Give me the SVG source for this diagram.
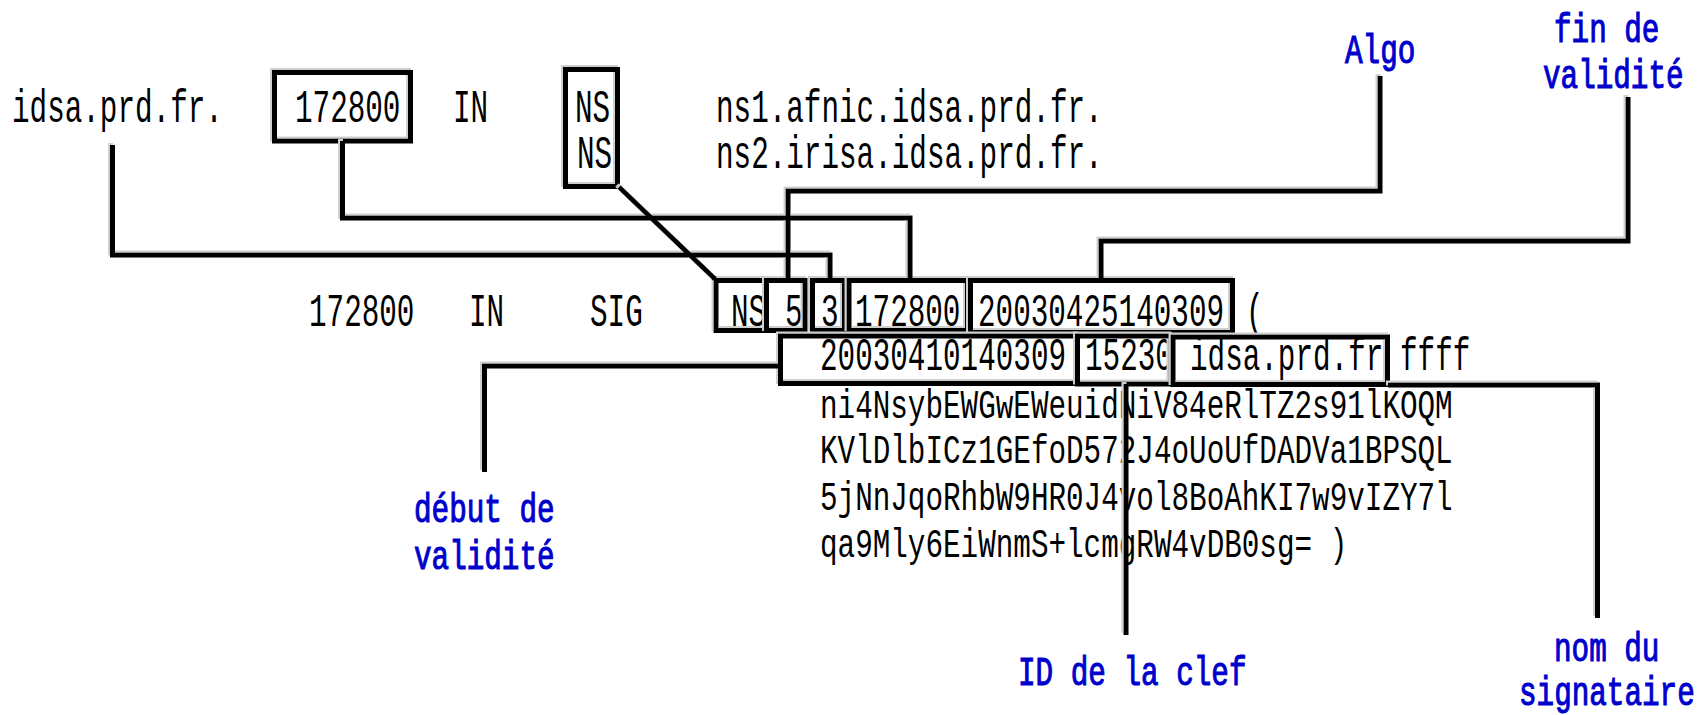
<svg xmlns="http://www.w3.org/2000/svg" width="1699" height="715" viewBox="0 0 1699 715">
  <style>
    .t { font-family: "Liberation Mono", "Courier New", monospace; font-size: 29.3px; fill: #000; }
    .lbl { font-family: "Liberation Mono", "Courier New", monospace; font-size: 29.3px; fill: #0000cc; stroke: #0000cc; stroke-width: 0.8; }
    .box { fill: none; stroke: #000; stroke-width: 5; filter: url(#shade); }
    .wire { fill: none; stroke: #000; stroke-width: 5; stroke-linejoin: miter; stroke-linecap: butt; }
  </style>
  <defs>
    <!-- soft grey edge up and to the left of every rule line -->
    <filter id="shade" filterUnits="userSpaceOnUse" x="0" y="0" width="1699" height="715">
      <feOffset in="SourceAlpha" dx="-2" dy="-2" result="off"/>
      <feFlood flood-color="#cfcfcf" result="grey"/>
      <feComposite in="grey" in2="off" operator="in" result="edge"/>
      <feMerge>
        <feMergeNode in="edge"/>
        <feMergeNode in="SourceGraphic"/>
      </feMerge>
    </filter>
  </defs>
  <rect width="1699" height="715" fill="#fff"/>

  <!-- all text uses a narrow monospace cell (17.6 px) stretched upright -->

  <!-- NS record -->
  <g id="ns-owner"><text class="t" transform="translate(12,122) scale(1,1.57)">idsa.prd.fr.</text></g>
  <g id="ns-ttl">
    <text class="t" transform="translate(295,122) scale(1,1.57)">172800</text>
    <rect class="box" x="274.5" y="72.5" width="136" height="68.5"/>
  </g>
  <g id="ns-class"><text class="t" transform="translate(453,122) scale(1,1.57)">IN</text></g>
  <g id="ns-type">
    <text class="t" transform="translate(575,122) scale(1,1.57)">NS</text>
    <text class="t" transform="translate(577,168) scale(1,1.57)">NS</text>
    <rect class="box" x="565.5" y="69.5" width="52" height="117"/>
  </g>
  <g id="ns-targets">
    <text class="t" transform="translate(716,122) scale(1,1.57)">ns1.afnic.idsa.prd.fr.</text>
    <text class="t" transform="translate(716,168) scale(1,1.57)">ns2.irisa.idsa.prd.fr.</text>
  </g>

  <!-- SIG record -->
  <g id="sig-head">
    <text class="t" transform="translate(309,326) scale(1,1.57)">172800</text>
    <text class="t" transform="translate(469,326) scale(1,1.57)">IN</text>
    <text class="t" transform="translate(590,326) scale(1,1.57)">SIG</text>
  </g>
  <g id="sig-covered">
    <text class="t" transform="translate(731,326) scale(1,1.57)">NS</text>
    <rect class="box" x="716" y="280.5" width="50.5" height="50"/>
  </g>
  <g id="sig-algo">
    <text class="t" transform="translate(785,326) scale(1,1.57)">5</text>
    <rect class="box" x="766.5" y="280.5" width="38.5" height="50"/>
  </g>
  <g id="sig-labels">
    <text class="t" transform="translate(821,326) scale(1,1.57)">3</text>
    <rect class="box" x="812.5" y="280.5" width="32" height="50"/>
  </g>
  <g id="sig-ttl">
    <text class="t" transform="translate(855,326) scale(1,1.57)">172800</text>
    <rect class="box" x="849" y="280.5" width="118.5" height="50"/>
  </g>
  <g id="sig-expiration">
    <text class="t" transform="translate(978,326) scale(1,1.57)">20030425140309</text>
    <rect class="box" x="970.5" y="280.5" width="262" height="52"/>
  </g>
  <g id="sig-paren"><text class="t" transform="translate(1246,326) scale(1,1.57)">(</text></g>
  <g id="sig-inception">
    <text class="t" transform="translate(820,370) scale(1,1.57)">20030410140309</text>
    <rect class="box" x="780.5" y="336" width="297" height="47.5"/>
  </g>
  <g id="sig-keytag">
    <text class="t" transform="translate(1085,370) scale(1,1.57)">15230</text>
    <rect class="box" x="1077.5" y="336" width="93.5" height="48"/>
  </g>
  <g id="sig-signer">
    <text class="t" transform="translate(1190,370) scale(1,1.57)">idsa.prd.fr</text>
    <rect class="box" x="1173" y="337" width="214.5" height="47.5"/>
  </g>
  <g id="sig-ffff"><text class="t" transform="translate(1400,370) scale(1,1.57)">ffff</text></g>
  <g id="sig-signature">
    <text class="t" transform="translate(820,418) scale(1,1.37)">ni4NsybEWGwEWeuidNiV84eRlTZ2s91lKOQM</text>
    <text class="t" transform="translate(820,463) scale(1,1.37)">KVlDlbICz1GEfoD572J4oUoUfDADVa1BPSQL</text>
    <text class="t" transform="translate(820,510) scale(1,1.37)">5jNnJqoRhbW9HR0J4vol8BoAhKI7w9vIZY7l</text>
    <text class="t" transform="translate(820,557) scale(1,1.37)">qa9Mly6EiWnmS+lcmgRW4vDB0sg= )</text>
  </g>

  <!-- field labels -->
  <g id="label-algo"><text class="lbl" transform="translate(1345,63) scale(1,1.4)">Algo</text></g>
  <g id="label-fin">
    <text class="lbl" transform="translate(1554,42) scale(1,1.4)">fin de</text>
    <text class="lbl" transform="translate(1543,88) scale(1,1.4)">validité</text>
  </g>
  <g id="label-debut">
    <text class="lbl" transform="translate(414,522) scale(1,1.4)">début de</text>
    <text class="lbl" transform="translate(414,569) scale(1,1.4)">validité</text>
  </g>
  <g id="label-id"><text class="lbl" transform="translate(1018,685) scale(1,1.4)">ID de la clef</text></g>
  <g id="label-nom">
    <text class="lbl" transform="translate(1554,661) scale(1,1.4)">nom du</text>
    <text class="lbl" transform="translate(1519,705) scale(1,1.4)">signataire</text>
  </g>

  <!-- connectors -->
  <g id="connectors" filter="url(#shade)">
    <path class="wire" d="M112.5,145 V255 H830 V280"/>
    <path class="wire" d="M342.5,141 V218 H910 V280"/>
    <path class="wire" d="M619,187 L715,279"/>
    <path class="wire" d="M1380,76 V191 H788 V280"/>
    <path class="wire" d="M1628,97 V241 H1101 V280"/>
    <path class="wire" d="M780,366 H484.5 V472"/>
    <path class="wire" d="M1126,384 V635"/>
    <path class="wire" d="M1388,385 H1597.5 V618"/>
  </g>
</svg>
